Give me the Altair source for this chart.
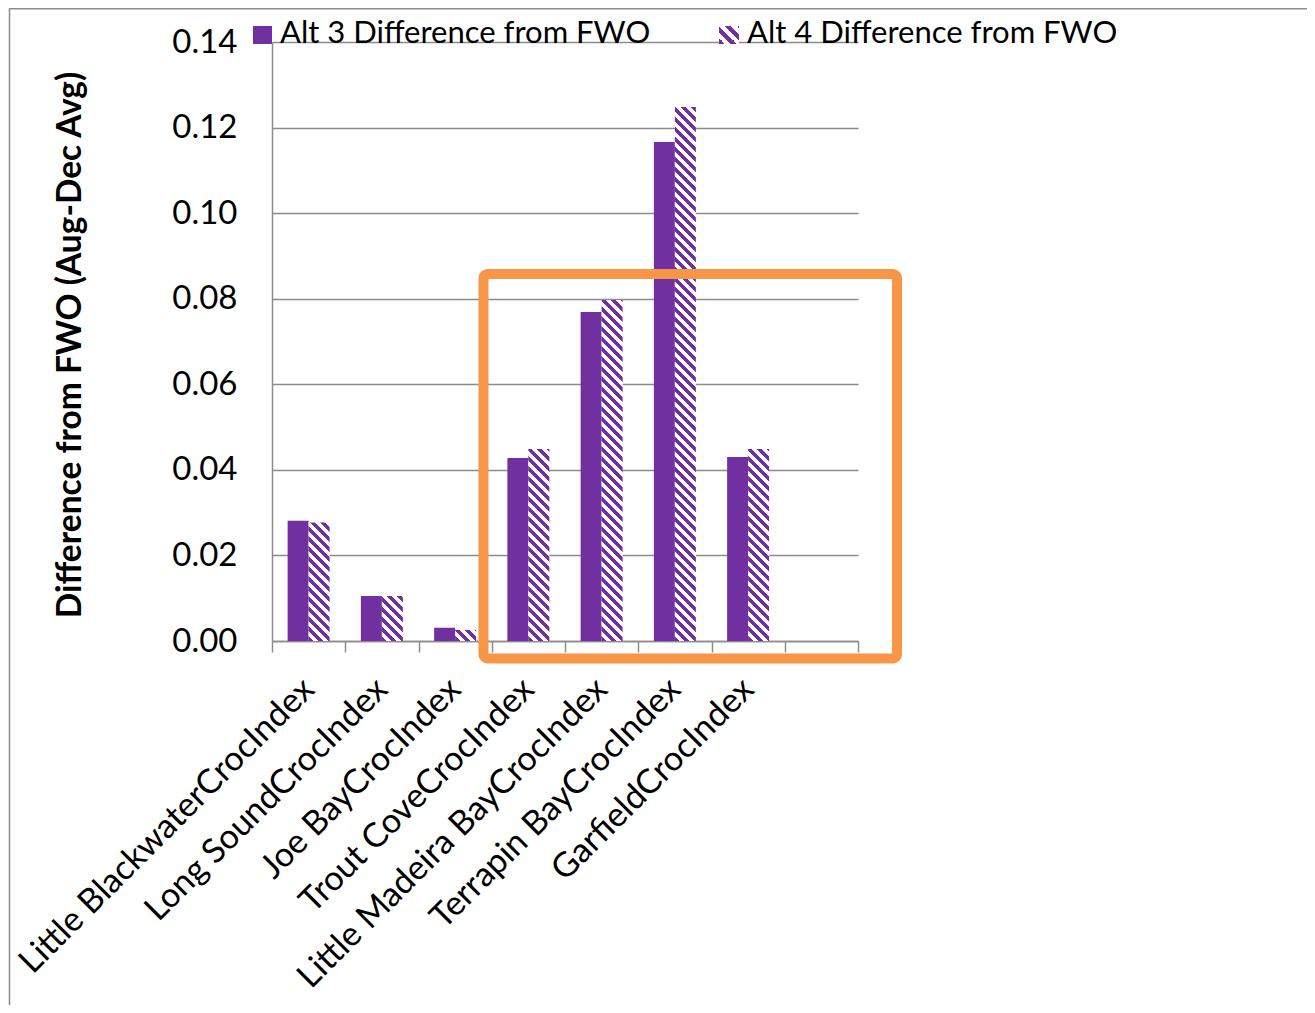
import math
import altair as alt
import pandas as pd

# ---------------- data ----------------
categories = [
    "Little BlackwaterCrocIndex",
    "Long SoundCrocIndex",
    "Joe BayCrocIndex",
    "Trout CoveCrocIndex",
    "Little Madeira BayCrocIndex",
    "Terrapin BayCrocIndex",
    "GarfieldCrocIndex",
]
alt3_values = [0.0281, 0.0105, 0.0031, 0.0428, 0.0769, 0.1166, 0.0430]
alt4_values = [0.0277, 0.0105, 0.0026, 0.0449, 0.0797, 0.1248, 0.0449]
series_names = ["Alt 3 Difference from FWO", "Alt 4 Difference from FWO"]
y_tick_values = [0.0, 0.02, 0.04, 0.06, 0.08, 0.10, 0.12, 0.14]
y_title = "Difference from FWO (Aug-Dec Avg)"

# ---------------- style ----------------
PURPLE = "#7030A0"
ORANGE = "#F79646"
GRAY = "#8c8c8c"
FONT = "Lato"
W, H = 586, 599
YMAX = 0.14
N_BANDS = len(categories) + 1
STEP = W / N_BANDS
BAR_W = 21.0
OFF_PAD = (STEP / BAR_W - 2) / 2
x_domain = categories + [" "]


def hatch(w, h, period=10.0, frac=0.5):
    """Diagonal '\\' stripes via a hard-stop linear gradient (bbox units)."""
    L = w + h
    k = L / (w * w + h * h)
    stops = []
    i = 0
    while i * period < L:
        a = i * period / L
        b = min((i + frac) * period / L, 1.0)
        c = min((i + 1) * period / L, 1.0)
        stops += [(a, PURPLE), (b, PURPLE), (b, "white"), (c, "white")]
        i += 1
    return alt.LinearGradient(
        gradient="linear",
        stops=[alt.GradientStop(offset=o, color=col) for o, col in stops],
        x1=0, y1=1, x2=k * w, y2=1 - k * h,
    )


df = pd.DataFrame({
    "cat": categories * 2,
    "series": [series_names[0]] * len(categories) + [series_names[1]] * len(categories),
    "value": alt3_values + alt4_values,
})

x_axis = alt.Axis(
    title=None, grid=False, domain=True, domainColor=GRAY, domainWidth=1.5,
    ticks=True, tickColor=GRAY, tickWidth=1.5, tickSize=11, tickBand="extent",
    labelAngle=-45, labelAlign="right", labelBaseline="middle", labelPadding=32,
    labelFont=FONT, labelFontSize=34, labelColor="black", labelLimit=0,
)
y_axis = alt.Axis(
    values=y_tick_values, format=".2f", grid=True, gridColor=GRAY, gridWidth=1.5,
    domain=True, domainColor=GRAY, domainWidth=1.5, ticks=False, tickSize=0,
    labelPadding=35, labelFont=FONT, labelFontSize=33, labelColor="black",
    title=y_title, titleFont=FONT, titleFontSize=33.5, titleFontWeight="bold",
    titleColor="black", titleAngle=270, titleAlign="center", titleBaseline="middle",
    titleX=-202, titleY=H / 2 + 3,
)

base = alt.Chart(df).encode(
    x=alt.X("cat:N", sort=x_domain,
            scale=alt.Scale(domain=x_domain, paddingInner=0, paddingOuter=0),
            axis=x_axis),
    xOffset=alt.XOffset("series:N",
                        scale=alt.Scale(domain=series_names, paddingInner=0, paddingOuter=OFF_PAD)),
    y=alt.Y("value:Q", scale=alt.Scale(domain=[0, YMAX], nice=False, zero=True), axis=y_axis),
)

layers = [base.transform_filter(alt.datum.series == series_names[0]).mark_bar(color=PURPLE)]
for c, v in zip(categories, alt4_values):
    layers.append(
        base.transform_filter((alt.datum.series == series_names[1]) & (alt.datum.cat == c))
        .mark_bar(fill=hatch(BAR_W, v / YMAX * H))
    )

one = pd.DataFrame({"k": [0]})

# legend (drawn manually so the hatch swatch can be shown)
leg_y0, leg_y1 = -16, 2
layers.append(alt.Chart(one).mark_rect(color=PURPLE).encode(
    x=alt.value(-19), x2=alt.value(0), y=alt.value(leg_y0), y2=alt.value(leg_y1)))
layers.append(alt.Chart(one).mark_rect(fill=hatch(20, 18, period=12.0)).encode(
    x=alt.value(447), x2=alt.value(467), y=alt.value(leg_y0), y2=alt.value(leg_y1)))
leg_df = pd.DataFrame({"label": series_names, "px": [8, 475]})
layers.append(alt.Chart(leg_df).mark_text(
    font=FONT, fontSize=31, color="black", align="left", baseline="alphabetic").encode(
    text="label:N", x=alt.X("px:Q", scale=None), y=alt.value(1)))

# orange highlight box
layers.append(alt.Chart(one).mark_rect(
    fill="transparent", stroke=ORANGE, strokeWidth=10, cornerRadius=4).encode(
    x=alt.value(211.5), x2=alt.value(625), y=alt.value(232), y2=alt.value(616.5)))

# chart-area border (left and top)
layers.append(alt.Chart(one).mark_rule(color=GRAY, strokeWidth=1.5).encode(
    x=alt.value(-262.5), y=alt.value(-34), y2=alt.value(1000)))
layers.append(alt.Chart(one).mark_rule(color=GRAY, strokeWidth=1.5).encode(
    x=alt.value(-263), x2=alt.value(1100), y=alt.value(-33.2)))

chart = alt.layer(*layers).properties(
    width=W, height=H,
    autosize=alt.AutoSizeParams(type="none"),
    padding={"left": 264, "top": 34, "right": 449, "bottom": 364},
).configure_view(stroke=None)

chart.save("out.html", embed_options={"renderer": "svg", "actions": False})
